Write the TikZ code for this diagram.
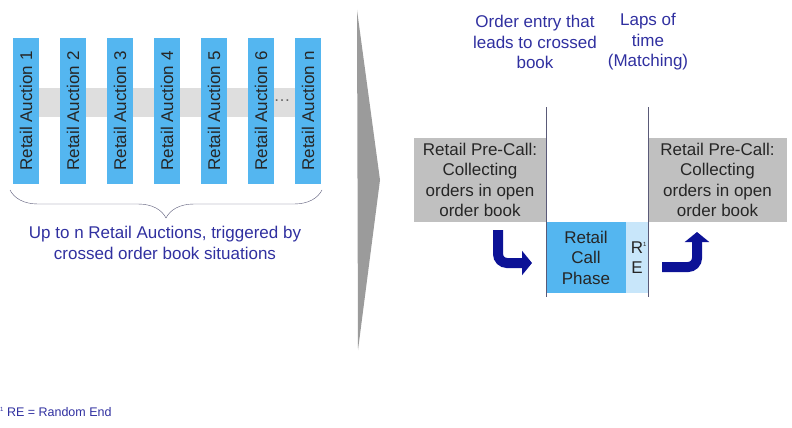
\documentclass[tikz,border=0pt]{standalone}
\usepackage{fontspec}
\setmainfont{Liberation Sans}
\usetikzlibrary{arrows.meta,decorations.pathreplacing}
\definecolor{barblue}{RGB}{84,182,240}
\definecolor{lightblue}{RGB}{200,230,250}
\definecolor{bandgray}{RGB}{222,222,222}
\definecolor{boxgray}{RGB}{192,192,192}
\definecolor{sepgray}{RGB}{155,155,155}
\definecolor{textblue}{RGB}{48,48,160}
\definecolor{navy}{RGB}{12,18,150}
\definecolor{linegray}{RGB}{90,90,120}
\tikzset{
    big/.style={font=\fontsize{17}{20.5}\selectfont},
    auction/.style={big, fill=barblue, text=black!85, rotate=90, inner sep=0pt,
        minimum width=146pt, minimum height=26pt},
    precall/.style={big, fill=boxgray, text=black!85, align=center, inner sep=0pt,
        minimum height=84pt},
    caption/.style={big, text=textblue, align=center},
    bentarrow/.style={navy, line width=10pt, rounded corners=9pt,
        -{Triangle[length=10pt,width=24pt]}}
}
\begin{document}
\begin{tikzpicture}[x=1pt, y=-1pt]
        \useasboundingbox (0, 0) rectangle (792, 428);
        \fill [bandgray] (39, 88) rectangle (295, 117);
        \foreach \i/\lab in {1/1, 2/2, 3/3, 4/4, 5/5, 6/6, 7/n}
            \node [auction] (ra\i) at ({26 + 47*(\i - 1)}, 111) {Retail Auction \lab};
        \node [big, text=black!60] (dots) at (282, 101) {\dots};
        \draw [linegray, decorate, decoration={brace, mirror, amplitude=28pt}]
            (10, 190) -- (322, 190);
        \node [caption] (upto) at (165, 243) {Up to n Retail Auctions, triggered by\\crossed order book situations};
        \fill [sepgray] (357, 10) -- (380, 180) -- (358, 350) -- cycle;
        \node [caption] (entry) at (535, 42) {Order entry that\\leads to crossed\\book};
        \node [caption] (laps) at (648, 42) {Laps of\\time\\(Matching)};
        \node [precall, minimum width=132pt] (pre1) at (480, 180) {Retail Pre-Call:\\Collecting\\orders in open\\order book};
        \node [precall, minimum width=139pt] (pre2) at (717.5, 180) {Retail Pre-Call:\\Collecting\\orders in open\\order book};
        \node [big, fill=barblue, text=black!85, align=center, inner sep=0pt,
            minimum width=80pt, minimum height=71pt] (call) at (586, 257.5) {Retail\\Call\\Phase};
        \node [big, fill=lightblue, text=black!85, align=center, inner sep=0pt,
            minimum width=22pt, minimum height=71pt] (re) at (637, 257.5) {R\rlap{\raisebox{7pt}{\fontsize{6}{7}\selectfont 1}}\\E};
        \coordinate (t1) at (546, 107);
        \coordinate (b1) at (546, 297);
        \coordinate (t2) at (648, 107);
        \coordinate (b2) at (648, 297);
        \draw [linegray, thick] (t1) -- (b1);
        \draw [linegray, thick] (t2) -- (b2);
        \coordinate (a1) at (498, 230);
        \coordinate (a2) at (532, 263);
        \draw [bentarrow] (a1) |- (a2);
        \coordinate (a3) at (662, 267);
        \coordinate (a4) at (697, 232);
        \draw [bentarrow] (a3) -| (a4);
        \node [anchor=west, text=textblue, font=\fontsize{12.5}{14}\selectfont, inner sep=0pt]
            (note) at (0, 412) {\raisebox{5pt}{\fontsize{6}{7}\selectfont 1} RE = Random End};
\end{tikzpicture}
\end{document}
